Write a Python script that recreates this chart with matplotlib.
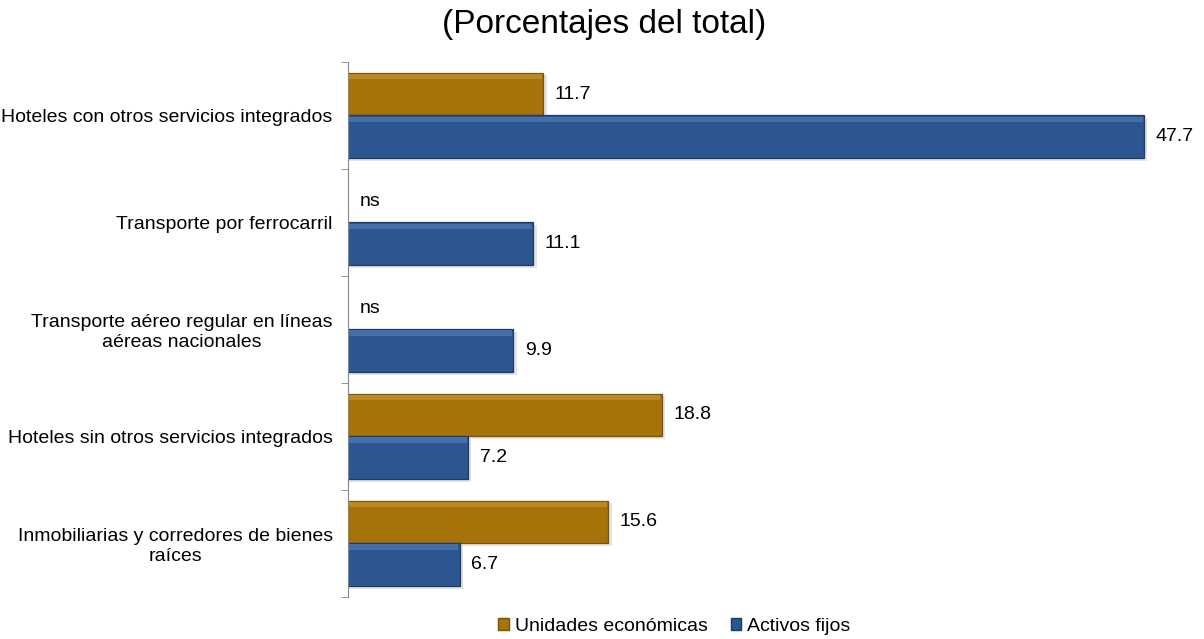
import numpy as np
import matplotlib
matplotlib.use("Agg")
from matplotlib import pyplot as plt
from matplotlib.patches import Patch

plt.rcParams['font.family'] = ['Liberation Sans', 'DejaVu Sans']

categorias = ["Hoteles con otros servicios integrados",
              "Transporte por ferrocarril",
              "Transporte aéreo regular en líneas\naéreas nacionales",
              "Hoteles sin otros servicios integrados",
              "Inmobiliarias y corredores de bienes\nraíces"]
unidades = [11.7, None, None, 18.8, 15.6]
activos = [47.7, 11.1, 9.9, 7.2, 6.7]
series = ["Unidades económicas", "Activos fijos"]

gold = "#a6720a"
gold_dark = "#7a5406"
gold_light = "#b98a24"
blue = "#2b5690"
blue_dark = "#1c3b66"
blue_light = "#4470aa"

fig = plt.figure(figsize=(12.04, 6.39), dpi=100)
ax = fig.add_axes([0.289, 0.066, 0.70, 0.837])

y = np.arange(len(categorias))
h = 0.4

def draw(vals, off, col, dark, light):
    v = np.array([np.nan if a is None else a for a in vals], dtype=float)
    pos = y + off
    # sombra
    ax.barh(pos + 0.025, v + 0.2, height=h, left=0, color="#c8c8c8", alpha=0.5, zorder=1)
    ax.barh(pos, v, height=h, color=col, edgecolor=dark, linewidth=0.9, zorder=2)
    # bisel superior
    ax.barh(pos - h / 2 + 0.035, v - 0.12, height=0.05, left=0.04, color=light, zorder=3)
    return v

vu = draw(unidades, -h / 2, gold, gold_dark, gold_light)
va = draw(activos, h / 2, blue, blue_dark, blue_light)

for i in range(len(categorias)):
    if np.isnan(vu[i]):
        ax.text(0.7, y[i] - h / 2, "ns", va="center", ha="left", fontsize=14)
    else:
        ax.text(vu[i] + 0.7, y[i] - h / 2, f"{vu[i]:.1f}", va="center", ha="left", fontsize=14)
    ax.text(va[i] + 0.7, y[i] + h / 2, f"{va[i]:.1f}", va="center", ha="left", fontsize=14)

ax.set_ylim(len(categorias) - 0.5, -0.5)
ax.set_xlim(0, 50.5)
ax.set_yticks(y)
ax.set_yticklabels(categorias, fontsize=14, multialignment="center")
ax.tick_params(axis="y", length=0, pad=11)
ax.set_yticks(np.arange(-0.5, len(categorias)), minor=True)
ax.tick_params(axis="y", which="minor", length=5, color="#888888")
ax.set_xticks([])
for s in ["top", "right", "bottom"]:
    ax.spines[s].set_visible(False)
ax.spines["left"].set_color("#888888")

fig.text(0.502, 0.962, "(Porcentajes del total)", ha="center", va="center", fontsize=24)

handles = [Patch(facecolor=gold, edgecolor=gold_dark), Patch(facecolor=blue, edgecolor=blue_dark)]
fig.legend(handles, series, loc="center", bbox_to_anchor=(0.56, 0.02), ncol=2, frameon=False,
           fontsize=14, handlelength=0.55, handleheight=0.55, handletextpad=0.3, columnspacing=1.2)

fig.savefig("out.png", dpi=100)
